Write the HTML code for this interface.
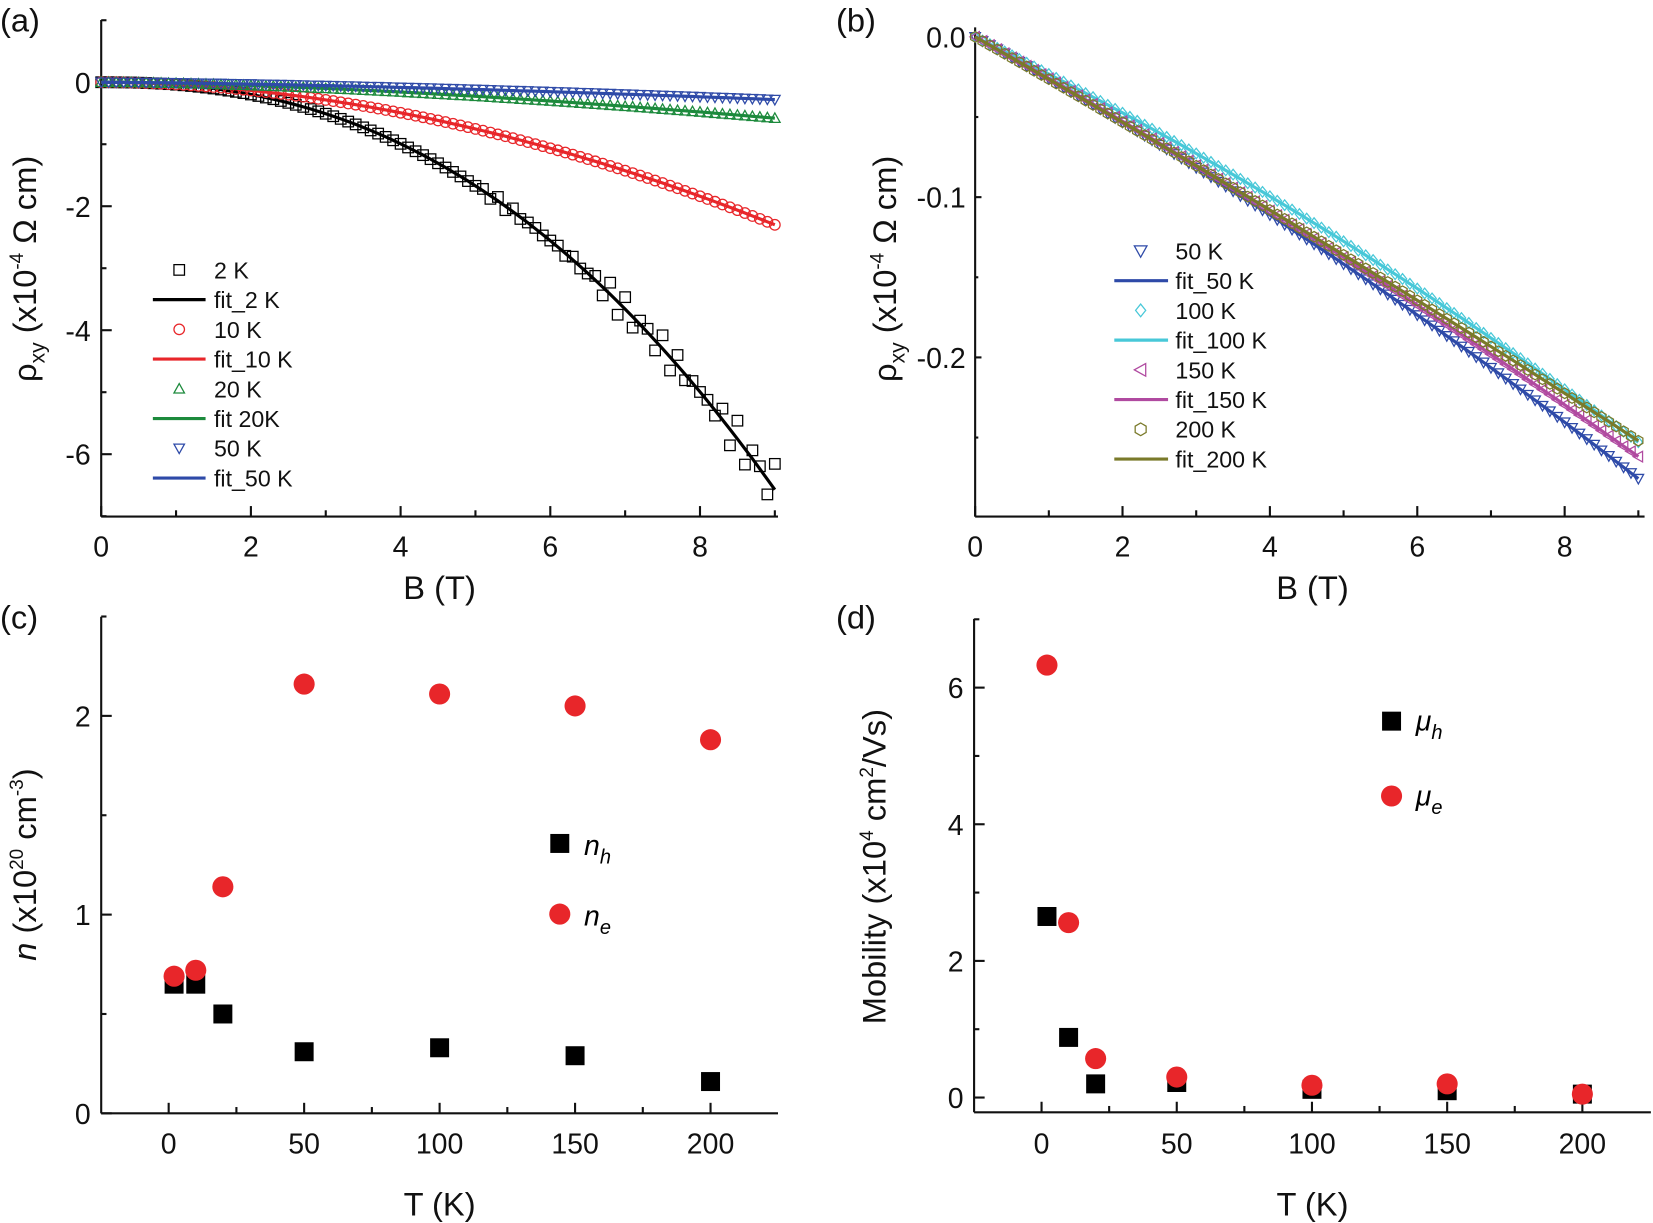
<!DOCTYPE html>
<html><head><meta charset="utf-8"><style>
html,body{margin:0;padding:0;background:#fff;}
svg{display:block;font-family:"Liberation Sans",Arial,sans-serif;}
</style></head><body>
<svg id="s" width="1653" height="1223" viewBox="0 0 1568 1160" preserveAspectRatio="none" xmlns="http://www.w3.org/2000/svg">
<g font-size="31" fill="#111">
<text x="0" y="30">(a)</text><text x="793" y="30">(b)</text>
<text x="0" y="596">(c)</text><text x="793" y="596">(d)</text>
</g>
<g font-size="31" fill="#111" text-anchor="middle">
<text x="417" y="568">B (T)</text><text x="1245" y="568">B (T)</text>
<text x="417" y="1153">T (K)</text><text x="1245" y="1153">T (K)</text>
<text transform="translate(34,255) rotate(-90)">ρ<tspan font-size="20" dy="8">xy</tspan><tspan dy="-8"> (x10</tspan><tspan font-size="18" dy="-12">-4</tspan><tspan dy="12"> Ω cm)</tspan></text>
<text transform="translate(850,255) rotate(-90)">ρ<tspan font-size="20" dy="8">xy</tspan><tspan dy="-8"> (x10</tspan><tspan font-size="18" dy="-12">-4</tspan><tspan dy="12"> Ω cm)</tspan></text>
<text transform="translate(34,820) rotate(-90)"><tspan font-style="italic">n</tspan> (x10<tspan font-size="18" dy="-12">20</tspan><tspan dy="12"> cm</tspan><tspan font-size="18" dy="-12">-3</tspan><tspan dy="12">)</tspan></text>
<text transform="translate(840,822) rotate(-90)">Mobility (x10<tspan font-size="18" dy="-12">4</tspan><tspan dy="12"> cm</tspan><tspan font-size="18" dy="-12">2</tspan><tspan dy="12">/Vs)</tspan></text>
</g>
<g id="g"></g>
</svg>
<script>
var G=document.getElementById('g');var out='';
function L(x1,y1,x2,y2,c,w){out+='<line x1="'+x1+'" y1="'+y1+'" x2="'+x2+'" y2="'+y2+'" stroke="'+(c||'#111')+'" stroke-width="'+(w||2)+'"/>';}
function T(x,y,s,a,fs){out+='<text x="'+x+'" y="'+y+'" font-size="'+(fs||27)+'" text-anchor="'+(a||'middle')+'" fill="#111">'+s+'</text>';}
function M(type,x,y,c,r){r=r||5;var p;
 if(type=='sq')out+='<rect x="'+(x-r)+'" y="'+(y-r)+'" width="'+2*r+'" height="'+2*r+'" fill="none" stroke="'+c+'" stroke-width="1.2"/>';
 else if(type=='ci')out+='<circle cx="'+x+'" cy="'+y+'" r="'+r+'" fill="none" stroke="'+c+'" stroke-width="1.2"/>';
 else{ if(type=='up')p=[[x,y-r],[x+r,y+r*0.8],[x-r,y+r*0.8]];
 else if(type=='dn')p=[[x,y+r],[x+r,y-r*0.8],[x-r,y-r*0.8]];
 else if(type=='di')p=[[x,y-r],[x+r*0.8,y],[x,y+r],[x-r*0.8,y]];
 else if(type=='lt')p=[[x-r,y],[x+r*0.8,y-r],[x+r*0.8,y+r]];
 else if(type=='hx'){p=[];for(var i=0;i<6;i++){var a=Math.PI/6+i*Math.PI/3;p.push([x+r*Math.cos(a),y+r*Math.sin(a)]);}}
 out+='<polygon points="'+p.map(function(q){return q[0].toFixed(1)+','+q[1].toFixed(1)}).join(' ')+'" fill="none" stroke="'+c+'" stroke-width="1.2"/>';}}
function PL(pts,c,w){out+='<polyline points="'+pts.map(function(q){return q[0].toFixed(1)+','+q[1].toFixed(1)}).join(' ')+'" fill="none" stroke="'+c+'" stroke-width="'+(w||3)+'"/>';}
function axes(x0,x1,y0,y1){L(x0,y0,x0,y1);L(x0,y1,x1,y1);}
// ---- Panel a
var ax=function(B){return 96+B*71.0},ay=function(v){return 78-v*58.8};
axes(96,738,19,490);
for(var b=0;b<=9;b++){var X=ax(b);L(X,490,X,b%2?484:480);if(b%2==0)T(X,528,b);}
for(var v=1;v>=-7;v--){var Y=ay(v);L(96,Y,v%2?101:106,Y);if(v%2==0&&v<=0)T(86,Y+10,v==0?'0':v,'end');}
var curves=[
 {f:function(B){return -0.0393*Math.pow(B,2.33)},c:'#000',m:'sq',n:1},
 {f:function(B){return -2.3*Math.pow(B/9,1.9)},c:'#e8262a',m:'ci'},
 {f:function(B){return -0.58*Math.pow(B/9,1.6)},c:'#1c8a3c',m:'up'},
 {f:function(B){return -0.28*Math.pow(B/9,1.5)},c:'#2e4aa8',m:'dn'}];
curves.forEach(function(k){var pts=[];for(var B=0;B<=9.001;B+=0.1){var v=k.f(B);var nz=0;
 if(k.n&&B>5){nz=(Math.sin(B*37.1)*0.5+Math.sin(B*91.7)*0.5)*0.09*(B-4.5)*(B>7?1.3:1);}
 M(k.m,ax(B),ay(v+nz),k.c,5);pts.push([ax(B),ay(v)]);}PL(pts,k.c,3);});
var lega=[['sq','#000','2 K'],[0,'#000','fit_2 K'],['ci','#e8262a','10 K'],[0,'#e8262a','fit_10 K'],['up','#1c8a3c','20 K'],[0,'#1c8a3c','fit 20K'],['dn','#2e4aa8','50 K'],[0,'#2e4aa8','fit_50 K']];
lega.forEach(function(e,i){var y=256+i*28.2;if(e[0])M(e[0],170,y,e[1],5);else L(145,y,195,y,e[1],3);T(203,y+8,e[2],'start',22);});
// ---- Panel b
var bx=function(B){return 925+B*69.9},by=function(v){return 35-v*1520};
axes(925,1560,26,490);
for(var b=0;b<=9;b++){var X=bx(b);L(X,490,X,b%2?484:480);if(b%2==0)T(X,528,b);}
for(var i=0;i>=-5;i--){var v=i*0.05;var Y=by(v);var maj=i%2==0;L(925,Y,maj?931:928,Y);if(maj)T(916,Y+10,i==0?'0.0':v.toFixed(1),'end');}
var bc=[{a:0.0255,c:0.00057,col:'#2e4aa8',m:'dn'},{a:0.0245,c:0.00040,col:'#48c8d8',m:'di'},{a:0.0255,c:0.00040,col:'#b04aa0',m:'lt'},{a:0.0262,c:0.00020,col:'#7a7a2a',m:'hx'}];
bc.forEach(function(k){var pts=[];for(var B=0;B<=9.001;B+=0.1){var v=-(k.a*B+k.c*B*B);if(k.col=='#48c8d8')v+=0.005*Math.sin(B/9*Math.PI);M(k.m,bx(B),by(v),k.col,5);pts.push([bx(B),by(v)]);}PL(pts,k.col,3);});
var legb=[['dn','#2e4aa8','50 K'],[0,'#2e4aa8','fit_50 K'],['di','#48c8d8','100 K'],[0,'#48c8d8','fit_100 K'],['lt','#b04aa0','150 K'],[0,'#b04aa0','fit_150 K'],['hx','#7a7a2a','200 K'],[0,'#7a7a2a','fit_200 K']];
legb.forEach(function(e,i){var y=238+i*28.2;if(e[0])M(e[0],1082,y,e[1],6);else L(1057,y,1108,y,e[1],3);T(1115,y+8,e[2],'start',22);});
// ---- Panel c
var cx=function(t){return 160+t*2.57},cy=function(v){return 1056-v*188.5};
axes(96,738,585,1056);
for(var t=-25;t<=225;t+=25){var X=cx(t);if(t>-25&&t<225)L(X,1056,X,t%50?1050:1046);if(t%50==0)T(X,1094,t);}
for(var v=0;v<=2.5;v+=0.5){var Y=cy(v);L(96,Y,v%1?101:106,Y);if(v%1==0)T(86,Y+10,v,'end');}
var T7=[2,10,20,50,100,150,200];
var nh=[0.65,0.65,0.5,0.31,0.33,0.29,0.16],ne=[0.69,0.72,1.14,2.16,2.11,2.05,1.88];
function fsq(x,y,r){out+='<rect x="'+(x-r)+'" y="'+(y-r)+'" width="'+2*r+'" height="'+2*r+'" fill="#000"/>';}
function fci(x,y,r){out+='<circle cx="'+x+'" cy="'+y+'" r="'+r+'" fill="#e8262a"/>';}
T7.forEach(function(t,i){fsq(cx(t),cy(nh[i]),9);});
T7.forEach(function(t,i){fci(cx(t),cy(ne[i]),10);});
fsq(531,800,9);fci(531,867,10);
out+='<text x="554" y="811" font-size="27" font-style="italic">n<tspan font-size="19" dy="8">h</tspan></text>';
out+='<text x="554" y="878" font-size="27" font-style="italic">n<tspan font-size="19" dy="8">e</tspan></text>';
// ---- Panel d
var dx=function(t){return 988+t*2.565},dy=function(v){return 1041-v*64.8};
axes(924,1566,587,1055);
for(var t=-25;t<=225;t+=25){var X=dx(t);if(t>-25&&t<225)L(X,1055,X,t%50?1049:1045);if(t%50==0)T(X,1094,t);}
for(var v=0;v<=7;v++){var Y=dy(v);L(924,Y,v%2?929:934,Y);if(v%2==0)T(914,Y+10,v,'end');}
var mh=[2.65,0.88,0.2,0.22,0.12,0.1,0.05],me=[6.33,2.56,0.57,0.3,0.18,0.2,0.05];
T7.forEach(function(t,i){fsq(dx(t),dy(mh[i]),9);});
T7.forEach(function(t,i){fci(dx(t),dy(me[i]),10);});
fsq(1320,684,9);fci(1320,755,10);
out+='<text x="1343" y="693" font-size="27" font-style="italic">μ<tspan font-size="19" dy="8">h</tspan></text>';
out+='<text x="1343" y="764" font-size="27" font-style="italic">μ<tspan font-size="19" dy="8">e</tspan></text>';
G.innerHTML=out;
</script>
</body></html>
